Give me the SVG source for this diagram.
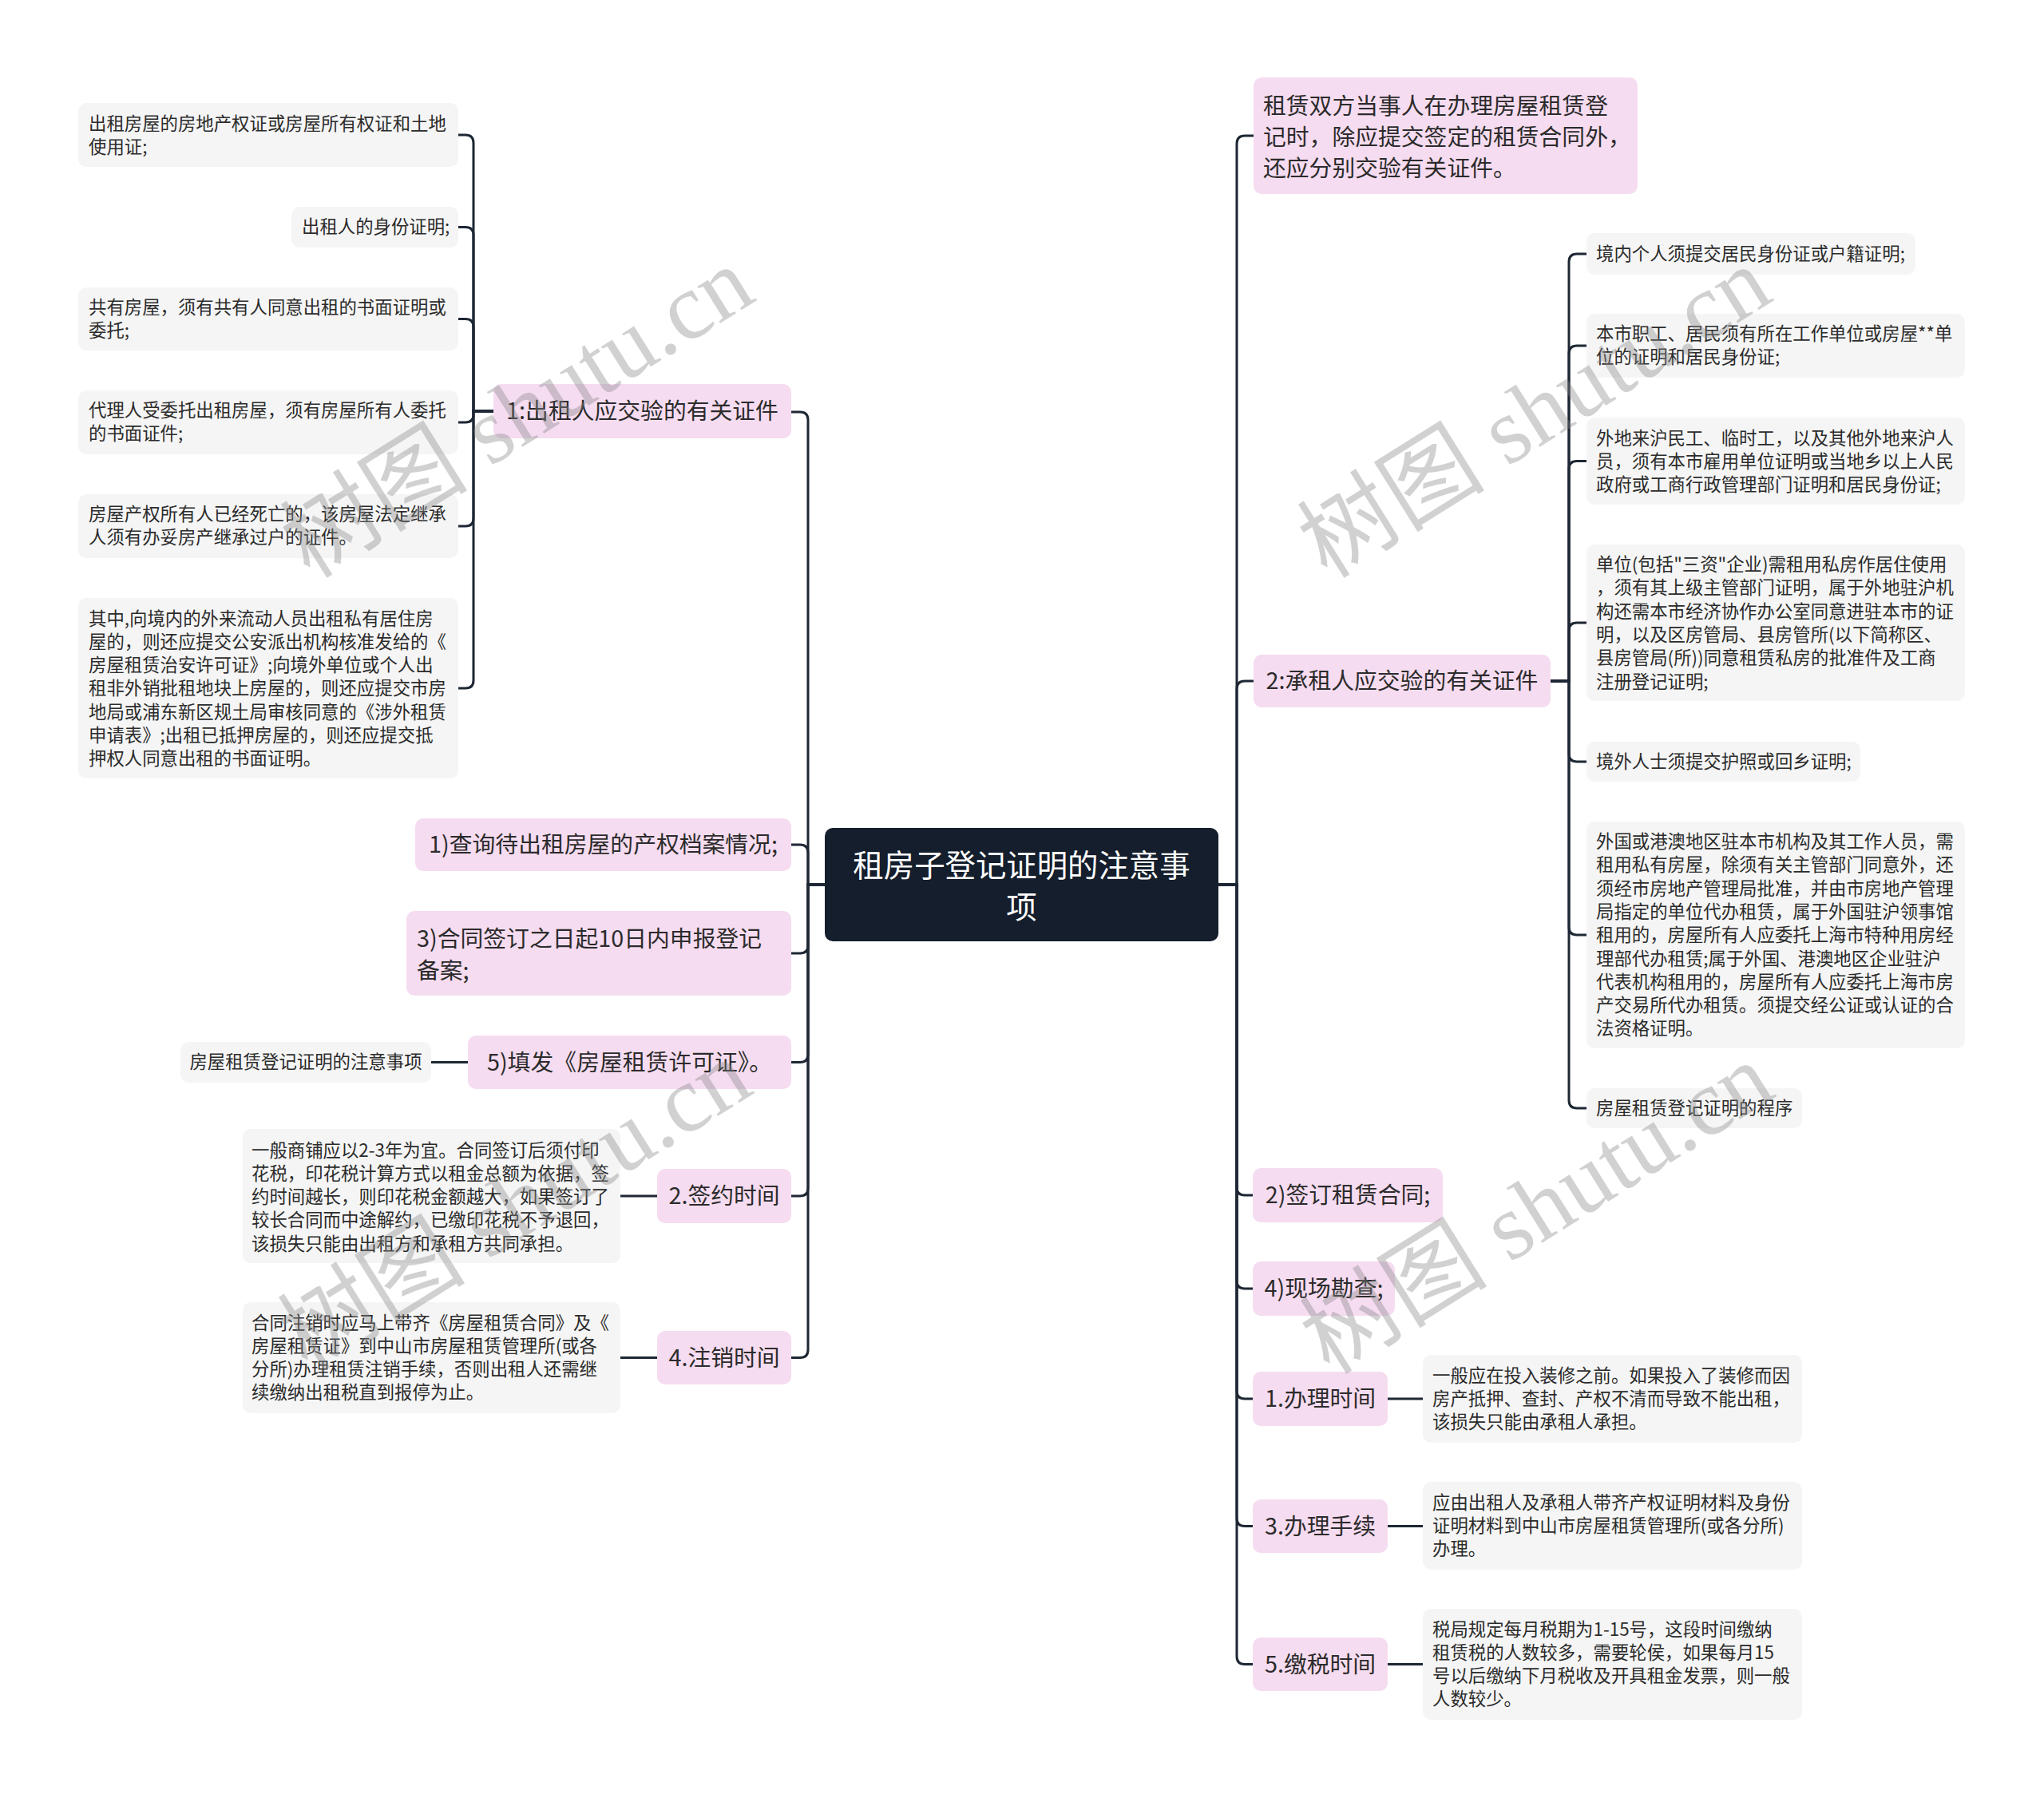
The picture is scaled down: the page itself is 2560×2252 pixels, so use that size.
<svg xmlns="http://www.w3.org/2000/svg" width="2560" height="2252" viewBox="0 0 2560 2252">
<style>
.pk{fill:#f6dcf0}
.gr{fill:#f5f5f5}
.ln{fill:none;stroke:#1e2734;stroke-width:3;stroke-linecap:round}
text{font-family:"Noto Sans CJK SC","Noto Sans",sans-serif;fill:#2b2b2b;dominant-baseline:central}
.s{font-size:22.4px;transform:translateY(-2.5px)}
.m{font-size:28.8px;transform:translateY(-2.5px)}
.c{text-anchor:middle}
.root{font-size:38.4px;fill:#ffffff;text-anchor:middle;transform:translateY(-2.5px)}
.wm{font-family:"Liberation Serif","Noto Sans CJK SC",serif;font-size:118px;fill:#888888;opacity:0.38;text-anchor:middle}
</style>
<rect width="2560" height="2252" fill="#ffffff"/>
<g id="connectors">
<path class="ln" d="M1033 1108 H1012 V526 Q1012 516 1002 516 H991"/>
<path class="ln" d="M1033 1108 H1012 V1068 Q1012 1058 1002 1058 H991"/>
<path class="ln" d="M1033 1108 H1012 V1184 Q1012 1194 1002 1194 H991"/>
<path class="ln" d="M1033 1108 H1012 V1320.5 Q1012 1330.5 1002 1330.5 H991"/>
<path class="ln" d="M1033 1108 H1012 V1488 Q1012 1498 1002 1498 H991"/>
<path class="ln" d="M1033 1108 H1012 V1690.5 Q1012 1700.5 1002 1700.5 H991"/>
<path class="ln" d="M1526 1108 H1549 V180 Q1549 170 1559 170 H1570"/>
<path class="ln" d="M1526 1108 H1549 V863 Q1549 853 1559 853 H1570"/>
<path class="ln" d="M1526 1108 H1549 V1487 Q1549 1497 1559 1497 H1569"/>
<path class="ln" d="M1526 1108 H1549 V1604 Q1549 1614 1559 1614 H1569"/>
<path class="ln" d="M1526 1108 H1549 V1742 Q1549 1752 1559 1752 H1569"/>
<path class="ln" d="M1526 1108 H1549 V1901.5 Q1549 1911.5 1559 1911.5 H1569"/>
<path class="ln" d="M1526 1108 H1549 V2074.5 Q1549 2084.5 1559 2084.5 H1569"/>
<path class="ln" d="M618 515 H593 V179 Q593 169 583 169 H574"/>
<path class="ln" d="M618 515 H593 V294.5 Q593 284.5 583 284.5 H574"/>
<path class="ln" d="M618 515 H593 V409.5 Q593 399.5 583 399.5 H574"/>
<path class="ln" d="M618 515 H593 V519 Q593 529 583 529 H574"/>
<path class="ln" d="M618 515 H593 V649 Q593 659 583 659 H574"/>
<path class="ln" d="M618 515 H593 V852 Q593 862 583 862 H574"/>
<path class="ln" d="M1942 853 H1965 V328 Q1965 318 1975 318 H1987"/>
<path class="ln" d="M1942 853 H1965 V443 Q1965 433 1975 433 H1987"/>
<path class="ln" d="M1942 853 H1965 V587.5 Q1965 577.5 1975 577.5 H1987"/>
<path class="ln" d="M1942 853 H1965 V790 Q1965 780 1975 780 H1987"/>
<path class="ln" d="M1942 853 H1965 V944 Q1965 954 1975 954 H1987"/>
<path class="ln" d="M1942 853 H1965 V1161 Q1965 1171 1975 1171 H1987"/>
<path class="ln" d="M1942 853 H1965 V1378 Q1965 1388 1975 1388 H1987"/>
<path class="ln" d="M540 1330.5 H586"/>
<path class="ln" d="M777 1498 H823"/>
<path class="ln" d="M777 1700.5 H823"/>
<path class="ln" d="M1738 1752 H1782"/>
<path class="ln" d="M1738 1911.5 H1782"/>
<path class="ln" d="M1738 2084.5 H1782"/>
</g>
<g id="root">
<rect x="1033" y="1037" width="493" height="142" rx="10" fill="#141e2c"/>
<text class="root"><tspan x="1279.5" y="1083">租房子登记证明的注意事</tspan><tspan x="1279.5" y="1135">项</tspan></text>
</g>
<g id="n1">
<rect class="pk" x="618" y="481" width="373" height="68" rx="10"/>
<text class="m c" x="804.5" y="515">1:出租人应交验的有关证件</text>
</g>
<g id="n1a">
<rect class="gr" x="98" y="129" width="476" height="80" rx="10"/>
<text class="s"><tspan x="111" y="155.5">出租房屋的房地产权证或房屋所有权证和土地</tspan><tspan x="111" y="184.5">使用证;</tspan></text>
</g>
<g id="n1b">
<rect class="gr" x="365" y="259" width="209" height="51" rx="10"/>
<text class="s" x="378" y="284.5">出租人的身份证明;</text>
</g>
<g id="n1c">
<rect class="gr" x="98" y="360" width="476" height="79" rx="10"/>
<text class="s"><tspan x="111" y="385">共有房屋，须有共有人同意出租的书面证明或</tspan><tspan x="111" y="414">委托;</tspan></text>
</g>
<g id="n1d">
<rect class="gr" x="98" y="489" width="476" height="80" rx="10"/>
<text class="s"><tspan x="111" y="514.5">代理人受委托出租房屋，须有房屋所有人委托</tspan><tspan x="111" y="543.5">的书面证件;</tspan></text>
</g>
<g id="n1e">
<rect class="gr" x="98" y="619" width="476" height="80" rx="10"/>
<text class="s"><tspan x="111" y="644.5">房屋产权所有人已经死亡的，该房屋法定继承</tspan><tspan x="111" y="673.5">人须有办妥房产继承过户的证件。</tspan></text>
</g>
<g id="n1f">
<rect class="gr" x="98" y="749" width="476" height="226" rx="10"/>
<text class="s"><tspan x="111" y="775">其中,向境内的外来流动人员出租私有居住房</tspan><tspan x="111" y="804.3">屋的，则还应提交公安派出机构核准发给的《</tspan><tspan x="111" y="833.6">房屋租赁治安许可证》;向境外单位或个人出</tspan><tspan x="111" y="862.9">租非外销批租地块上房屋的，则还应提交市房</tspan><tspan x="111" y="892.2">地局或浦东新区规土局审核同意的《涉外租赁</tspan><tspan x="111" y="921.5">申请表》;出租已抵押房屋的，则还应提交抵</tspan><tspan x="111" y="950.8">押权人同意出租的书面证明。</tspan></text>
</g>
<g id="n2">
<rect class="pk" x="520" y="1025" width="471" height="66" rx="10"/>
<text class="m c" x="755.5" y="1058">1)查询待出租房屋的产权档案情况;</text>
</g>
<g id="n3">
<rect class="pk" x="509" y="1141" width="482" height="106" rx="10"/>
<text class="m"><tspan x="522" y="1175">3)合同签订之日起10日内申报登记</tspan><tspan x="522" y="1215">备案;</tspan></text>
</g>
<g id="n4">
<rect class="pk" x="586" y="1297" width="405" height="67" rx="10"/>
<text class="m c" x="788.5" y="1330.5">5)填发《房屋租赁许可证》。</text>
</g>
<g id="n4a">
<rect class="gr" x="226" y="1305" width="314" height="51" rx="10"/>
<text class="s c" x="383" y="1330.5">房屋租赁登记证明的注意事项</text>
</g>
<g id="n5">
<rect class="pk" x="823" y="1464" width="168" height="68" rx="10"/>
<text class="m c" x="907" y="1498">2.签约时间</text>
</g>
<g id="n5a">
<rect class="gr" x="304" y="1414" width="473" height="168" rx="10"/>
<text class="s"><tspan x="315" y="1441">一般商铺应以2-3年为宜。合同签订后须付印</tspan><tspan x="315" y="1470.3">花税，印花税计算方式以租金总额为依据，签</tspan><tspan x="315" y="1499.6">约时间越长，则印花税金额越大，如果签订了</tspan><tspan x="315" y="1528.9">较长合同而中途解约，已缴印花税不予退回，</tspan><tspan x="315" y="1558.2">该损失只能由出租方和承租方共同承担。</tspan></text>
</g>
<g id="n6">
<rect class="pk" x="823" y="1667" width="168" height="67" rx="10"/>
<text class="m c" x="907" y="1700.5">4.注销时间</text>
</g>
<g id="n6a">
<rect class="gr" x="304" y="1631" width="473" height="139" rx="10"/>
<text class="s"><tspan x="315" y="1657">合同注销时应马上带齐《房屋租赁合同》及《</tspan><tspan x="315" y="1686.3">房屋租赁证》到中山市房屋租赁管理所(或各</tspan><tspan x="315" y="1715.6">分所)办理租赁注销手续，否则出租人还需继</tspan><tspan x="315" y="1744.9">续缴纳出租税直到报停为止。</tspan></text>
</g>
<g id="r1">
<rect class="pk" x="1570" y="97" width="481" height="146" rx="10"/>
<text class="m"><tspan x="1582" y="132">租赁双方当事人在办理房屋租赁登</tspan><tspan x="1582" y="171">记时，除应提交签定的租赁合同外，</tspan><tspan x="1582" y="210">还应分别交验有关证件。</tspan></text>
</g>
<g id="r2">
<rect class="pk" x="1570" y="820" width="372" height="66" rx="10"/>
<text class="m c" x="1756" y="853">2:承租人应交验的有关证件</text>
</g>
<g id="r2a">
<rect class="gr" x="1987" y="292" width="412" height="52" rx="10"/>
<text class="s" x="1999" y="318">境内个人须提交居民身份证或户籍证明;</text>
</g>
<g id="r2b">
<rect class="gr" x="1987" y="393" width="474" height="80" rx="10"/>
<text class="s"><tspan x="1999" y="418.5">本市职工、居民须有所在工作单位或房屋**单</tspan><tspan x="1999" y="447.5">位的证明和居民身份证;</tspan></text>
</g>
<g id="r2c">
<rect class="gr" x="1987" y="523" width="474" height="109" rx="10"/>
<text class="s"><tspan x="1999" y="549">外地来沪民工、临时工，以及其他外地来沪人</tspan><tspan x="1999" y="578.3">员，须有本市雇用单位证明或当地乡以上人民</tspan><tspan x="1999" y="607.6">政府或工商行政管理部门证明和居民身份证;</tspan></text>
</g>
<g id="r2d">
<rect class="gr" x="1987" y="682" width="474" height="196" rx="10"/>
<text class="s"><tspan x="1999" y="707.5">单位(包括"三资"企业)需租用私房作居住使用</tspan><tspan x="1999" y="736.8">，须有其上级主管部门证明，属于外地驻沪机</tspan><tspan x="1999" y="766.1">构还需本市经济协作办公室同意进驻本市的证</tspan><tspan x="1999" y="795.4">明，以及区房管局、县房管所(以下简称区、</tspan><tspan x="1999" y="824.7">县房管局(所))同意租赁私房的批准件及工商</tspan><tspan x="1999" y="854">注册登记证明;</tspan></text>
</g>
<g id="r2e">
<rect class="gr" x="1987" y="929" width="343" height="50" rx="10"/>
<text class="s" x="1999" y="954">境外人士须提交护照或回乡证明;</text>
</g>
<g id="r2f">
<rect class="gr" x="1987" y="1029" width="474" height="284" rx="10"/>
<text class="s"><tspan x="1999" y="1054.5">外国或港澳地区驻本市机构及其工作人员，需</tspan><tspan x="1999" y="1083.8">租用私有房屋，除须有关主管部门同意外，还</tspan><tspan x="1999" y="1113.1">须经市房地产管理局批准，并由市房地产管理</tspan><tspan x="1999" y="1142.4">局指定的单位代办租赁，属于外国驻沪领事馆</tspan><tspan x="1999" y="1171.7">租用的，房屋所有人应委托上海市特种用房经</tspan><tspan x="1999" y="1201">理部代办租赁;属于外国、港澳地区企业驻沪</tspan><tspan x="1999" y="1230.3">代表机构租用的，房屋所有人应委托上海市房</tspan><tspan x="1999" y="1259.6">产交易所代办租赁。须提交经公证或认证的合</tspan><tspan x="1999" y="1288.9">法资格证明。</tspan></text>
</g>
<g id="r2g">
<rect class="gr" x="1987" y="1363" width="270" height="50" rx="10"/>
<text class="s" x="1999" y="1388">房屋租赁登记证明的程序</text>
</g>
<g id="r3">
<rect class="pk" x="1569" y="1463" width="238" height="68" rx="10"/>
<text class="m c" x="1688" y="1497">2)签订租赁合同;</text>
</g>
<g id="r4">
<rect class="pk" x="1569" y="1580" width="178" height="68" rx="10"/>
<text class="m c" x="1658" y="1614">4)现场勘查;</text>
</g>
<g id="r5">
<rect class="pk" x="1569" y="1718" width="169" height="68" rx="10"/>
<text class="m c" x="1653.5" y="1752">1.办理时间</text>
</g>
<g id="r5a">
<rect class="gr" x="1782" y="1697" width="475" height="110" rx="10"/>
<text class="s"><tspan x="1794" y="1723">一般应在投入装修之前。如果投入了装修而因</tspan><tspan x="1794" y="1752.3">房产抵押、查封、产权不清而导致不能出租，</tspan><tspan x="1794" y="1781.6">该损失只能由承租人承担。</tspan></text>
</g>
<g id="r6">
<rect class="pk" x="1569" y="1878" width="169" height="67" rx="10"/>
<text class="m c" x="1653.5" y="1911.5">3.办理手续</text>
</g>
<g id="r6a">
<rect class="gr" x="1782" y="1856" width="475" height="110" rx="10"/>
<text class="s"><tspan x="1794" y="1882">应由出租人及承租人带齐产权证明材料及身份</tspan><tspan x="1794" y="1911.3">证明材料到中山市房屋租赁管理所(或各分所)</tspan><tspan x="1794" y="1940.6">办理。</tspan></text>
</g>
<g id="r7">
<rect class="pk" x="1569" y="2051" width="169" height="67" rx="10"/>
<text class="m c" x="1653.5" y="2084.5">5.缴税时间</text>
</g>
<g id="r7a">
<rect class="gr" x="1782" y="2015" width="475" height="139" rx="10"/>
<text class="s"><tspan x="1794" y="2041">税局规定每月税期为1-15号，这段时间缴纳</tspan><tspan x="1794" y="2070.3">租赁税的人数较多，需要轮侯，如果每月15</tspan><tspan x="1794" y="2099.6">号以后缴纳下月税收及开具租金发票，则一般</tspan><tspan x="1794" y="2128.9">人数较少。</tspan></text>
</g>
<g id="watermarks">
<text class="wm" x="648" y="517" transform="rotate(-32 648 517)">树图 shutu.cn</text>
<text class="wm" x="1922" y="517" transform="rotate(-32 1922 517)">树图 shutu.cn</text>
<text class="wm" x="645" y="1510" transform="rotate(-32 645 1510)">树图 shutu.cn</text>
<text class="wm" x="1925" y="1514" transform="rotate(-32 1925 1514)">树图 shutu.cn</text>
</g>
</svg>
